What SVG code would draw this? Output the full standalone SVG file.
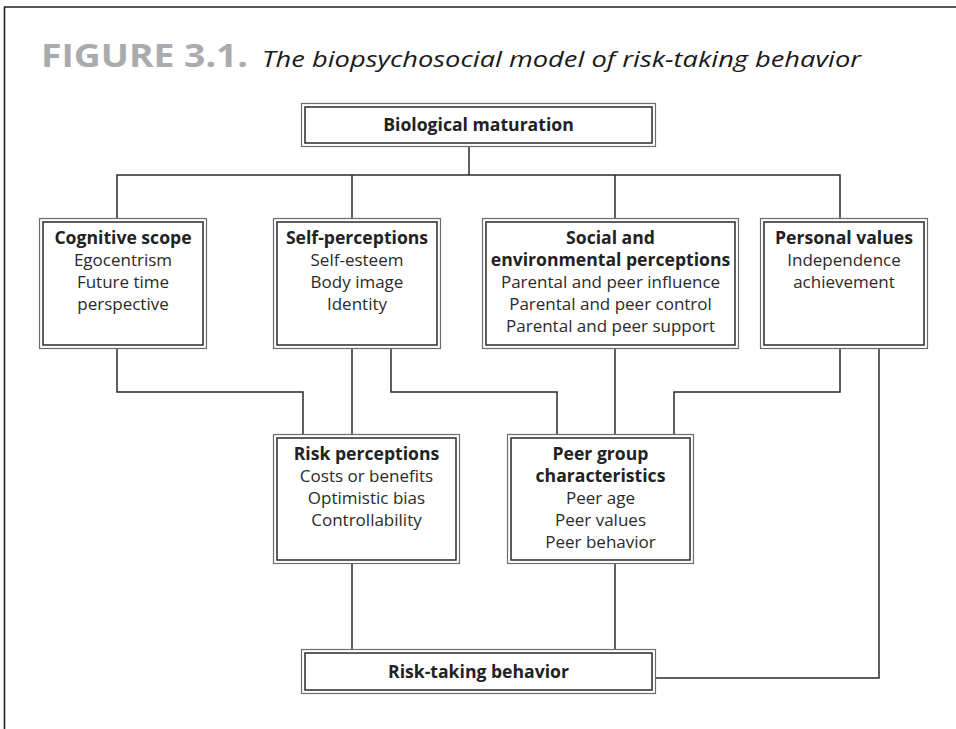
<svg xmlns="http://www.w3.org/2000/svg" width="956" height="729" viewBox="0 0 956 729">
  <style>
    .outer { fill: #fff; stroke: #6e6e6e; stroke-width: 1.2; }
    .inner { fill: none; stroke: #2a2a2a; stroke-width: 1.5; }
    .wire { fill: none; stroke: #2a2a2a; stroke-width: 1.5; }
    .frame { fill: none; stroke: #222; stroke-width: 1.6; }
    text { font-family: "Open Sans", "Noto Sans", "DejaVu Sans", sans-serif; fill: #222; text-anchor: middle; }
    .h { font-weight: bold; font-size: 17.6px; }
    .b { font-size: 17px; fill: #2a2a2a; }
  </style>

  <!-- page frame -->
  <path class="frame" d="M4.5,729 V7 H956"/>

  <!-- caption -->
  <text x="41" y="67" style="text-anchor:start;font-weight:bold;font-size:33px;fill:#a9abae" textLength="207" lengthAdjust="spacingAndGlyphs">FIGURE 3.1.</text>
  <text x="262" y="67" style="text-anchor:start;font-style:italic;font-size:22.5px;fill:#1a1a1a" textLength="599" lengthAdjust="spacingAndGlyphs">The biopsychosocial model of risk-taking behavior</text>

  <!-- connectors -->
  <g id="connectors">
    <path class="wire" d="M469,147 V175"/>
    <path class="wire" d="M117,218 V175 H840 V218"/>
    <path class="wire" d="M352,175 V218"/>
    <path class="wire" d="M615,175 V218"/>
    <path class="wire" d="M117,349 V392 H303 V434"/>
    <path class="wire" d="M352,349 V434"/>
    <path class="wire" d="M391,349 V392 H557 V434"/>
    <path class="wire" d="M615,349 V434"/>
    <path class="wire" d="M840,349 V392 H674 V434"/>
    <path class="wire" d="M879,349 V678 H656"/>
    <path class="wire" d="M352,564 V649"/>
    <path class="wire" d="M615,564 V649"/>
  </g>

  <g id="biological-maturation">
    <rect class="outer" x="301.5" y="103.5" width="354" height="43"/>
    <rect class="inner" x="305" y="107" width="347" height="36"/>
    <text class="h" x="478.5" y="131">Biological maturation</text>
  </g>

  <g id="cognitive-scope">
    <rect class="outer" x="39.5" y="218.5" width="167" height="130"/>
    <rect class="inner" x="43" y="222" width="160" height="123"/>
    <text class="h" x="123" y="244">Cognitive scope</text>
    <text class="b" x="123" y="266">Egocentrism</text>
    <text class="b" x="123" y="288">Future time</text>
    <text class="b" x="123" y="310">perspective</text>
  </g>

  <g id="self-perceptions">
    <rect class="outer" x="273.5" y="218.5" width="167" height="130"/>
    <rect class="inner" x="277" y="222" width="160" height="123"/>
    <text class="h" x="357" y="244">Self-perceptions</text>
    <text class="b" x="357" y="266">Self-esteem</text>
    <text class="b" x="357" y="288">Body image</text>
    <text class="b" x="357" y="310">Identity</text>
  </g>

  <g id="social-environmental-perceptions">
    <rect class="outer" x="482.5" y="218.5" width="256" height="130"/>
    <rect class="inner" x="486" y="222" width="249" height="123"/>
    <text class="h" x="610.5" y="244">Social and</text>
    <text class="h" x="610.5" y="266">environmental perceptions</text>
    <text class="b" x="610.5" y="288">Parental and peer influence</text>
    <text class="b" x="610.5" y="310">Parental and peer control</text>
    <text class="b" x="610.5" y="332">Parental and peer support</text>
  </g>

  <g id="personal-values">
    <rect class="outer" x="760.5" y="218.5" width="167" height="130"/>
    <rect class="inner" x="764" y="222" width="160" height="123"/>
    <text class="h" x="844" y="244">Personal values</text>
    <text class="b" x="844" y="266">Independence</text>
    <text class="b" x="844" y="288">achievement</text>
  </g>

  <g id="risk-perceptions">
    <rect class="outer" x="273.5" y="434.5" width="186" height="129"/>
    <rect class="inner" x="277" y="438" width="179" height="122"/>
    <text class="h" x="366.5" y="460">Risk perceptions</text>
    <text class="b" x="366.5" y="482">Costs or benefits</text>
    <text class="b" x="366.5" y="504">Optimistic bias</text>
    <text class="b" x="366.5" y="526">Controllability</text>
  </g>

  <g id="peer-group-characteristics">
    <rect class="outer" x="507.5" y="434.5" width="186" height="129"/>
    <rect class="inner" x="511" y="438" width="179" height="122"/>
    <text class="h" x="600.5" y="460">Peer group</text>
    <text class="h" x="600.5" y="482">characteristics</text>
    <text class="b" x="600.5" y="504">Peer age</text>
    <text class="b" x="600.5" y="526">Peer values</text>
    <text class="b" x="600.5" y="548">Peer behavior</text>
  </g>

  <g id="risk-taking-behavior">
    <rect class="outer" x="301.5" y="649.5" width="354" height="44"/>
    <rect class="inner" x="305" y="653" width="347" height="37"/>
    <text class="h" x="478.5" y="678">Risk-taking behavior</text>
  </g>
</svg>
